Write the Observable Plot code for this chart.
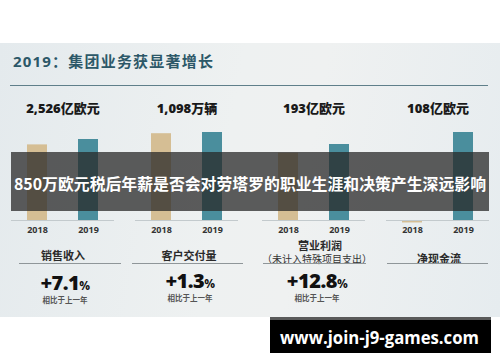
<!DOCTYPE html>
<html><head><meta charset="utf-8">
<script src="https://cdn.jsdelivr.net/npm/d3@7"></script>
<script src="https://cdn.jsdelivr.net/npm/@observablehq/plot@0.6"></script>
<style>
html,body{margin:0;padding:0;background:#fff;}
#root{position:relative;width:500px;height:362px;overflow:hidden;background:#fff;font-family:"Open Sans","Noto Sans CJK SC",sans-serif;}
#slide{position:absolute;left:0;top:43px;width:500px;height:274px;background:linear-gradient(100deg,#e4eaed 0%,#eef1f1 45%,#eff1f1 60%,#e6ecef 100%);}
.abs{position:absolute;white-space:nowrap;}
.c{transform:translate(-50%,-50%);}
.cat{font-size:11px;font-weight:700;color:#2a2a2a;}
.pct{font-size:20px;font-weight:800;color:#111;letter-spacing:-0.5px;}
.pct span{font-size:12px;font-weight:700;}
.note{font-size:7.5px;color:#555;font-weight:700;}
.uline{position:absolute;height:1px;background:#8f9699;}
</style></head>
<body><div id="root"><div id="slide"></div></div>
<script>
// ---- data ----
const panels = ["销售收入", "客户交付量", "营业利润", "净现金流"];
const years = ["2018", "2019"];
const values2018 = [235.8, 1083, 171, -3];
const values2019 = [252.6, 1098, 193, 108];
const valueLabels = ["2,526亿欧元", "1,098万辆", "193亿欧元", "108亿欧元"];
const changes = ["+7.1", "+1.3", "+12.8", null];
const changeNote = "相比于上一年";
const subNote = "（未计入特殊项目支出）";
const title = "2019：集团业务获显著增长";
const overlayText = "850万欧元税后年薪是否会对劳塔罗的职业生涯和决策产生深远影响";
const watermark = "www.join-j9-games.com";

// ---- layout (style) ----
const root = document.getElementById("root");
const axisLeft = [11, 135, 262, 386];
const axisW = 103;
const barPx = [81, 88, 76, 88]; // pixel height of 2019 bars
const plotTop = 92, base = 128;
const colors = ["#d5be94", "#4a8e9d"];

function add(html, cls, x, y, style = "") {
  const d = document.createElement("div");
  d.className = "abs " + cls;
  d.style.left = x + "px"; d.style.top = y + "px";
  if (style) d.style.cssText += style;
  d.innerHTML = html;
  root.appendChild(d);
  return d;
}

// title + rule
add(title, "", 13, 52, "font-size:15px;font-weight:700;color:#2c5868;letter-spacing:1.2px;line-height:18px;");
const hr = document.createElement("div");
hr.className = "uline"; hr.style.cssText += "left:10px;top:85px;width:478px;background:#5f7f8a;";
root.appendChild(hr);

panels.forEach((p, i) => {
  const data = years.map((y, j) => ({year: y, value: j === 0 ? values2018[i] : values2019[i]}));
  const yMax = values2019[i] * base / barPx[i];
  const chart = Plot.plot({
    width: axisW, height: base + 22,
    marginLeft: 0, marginRight: 0, marginTop: 0, marginBottom: 22,
    x: {domain: years, range: [0, axisW], paddingInner: 0.61, paddingOuter: 0.305, label: null, tickSize: 0, tickPadding: 6},
    y: {domain: [0, yMax], range: [base, 0], axis: null},
    color: {domain: years, range: colors},
    style: {background: "transparent", fontFamily: "'Open Sans','Noto Sans CJK SC',sans-serif", fontSize: "9px", fontWeight: "700", color: "#333", overflow: "visible"},
    marks: [
      Plot.barY(data, {x: "year", y: "value", fill: "year"}),
      Plot.ruleY([0], {stroke: "#c3cacd"}),
      Plot.text([valueLabels[i]], {frameAnchor: "top", dy: 16, lineAnchor: "middle", fontSize: 13, fontWeight: 800, fill: "#1a1a1a", text: d => d})
    ]
  });
  chart.style.position = "absolute";
  chart.style.left = axisLeft[i] + "px";
  chart.style.top = plotTop + "px";
  root.appendChild(chart);
});

// category labels
const cx = [63, 189, 320, 439];
add(panels[0], "cat c", cx[0], 255);
add(panels[1], "cat c", cx[1], 255);
add(panels[2], "cat c", cx[2], 245);
add(subNote, "cat c", 317, 258, "font-weight:400;font-size:10px;color:#333;");
add(panels[3], "cat c", cx[3], 258);
[[19, 102], [132, 111], [263, 103], [387, 101]].forEach(([x, w]) => {
  const u = document.createElement("div");
  u.className = "uline"; u.style.left = x + "px"; u.style.top = "263px"; u.style.width = w + "px";
  root.appendChild(u);
});

// change percentages
const pctX = [65, 190, 317], pctY = [282, 280, 280], noteY = [299, 297, 297];
changes.forEach((c, i) => {
  if (c == null) return;
  add(c + "<span>%</span>", "pct c", pctX[i], pctY[i]);
  add(changeNote, "note c", pctX[i], noteY[i]);
});

// overlay band + watermark (SVG text for width control)
const ns = "http://www.w3.org/2000/svg";
const svg = document.createElementNS(ns, "svg");
svg.setAttribute("width", 500); svg.setAttribute("height", 362);
svg.style.cssText = "position:absolute;left:0;top:0;";
svg.innerHTML = `
<rect x="11" y="152" width="478" height="59" fill="rgba(40,40,40,0.75)"/>
<text x="250" y="183" text-anchor="middle" dominant-baseline="central" textLength="472" lengthAdjust="spacingAndGlyphs" font-size="16" font-weight="700" fill="#fff" font-family="'Noto Sans CJK SC',sans-serif">${overlayText}</text>
<rect x="270" y="317" width="221" height="36" fill="#000"/>
<rect x="270" y="317" width="221" height="3" fill="#5a5a5a"/>
<text x="280" y="337" dominant-baseline="central" textLength="199" lengthAdjust="spacingAndGlyphs" font-size="18" font-weight="700" fill="#fff" font-family="'Open Sans',sans-serif">${watermark}</text>`;
root.appendChild(svg);
</script></body></html>
